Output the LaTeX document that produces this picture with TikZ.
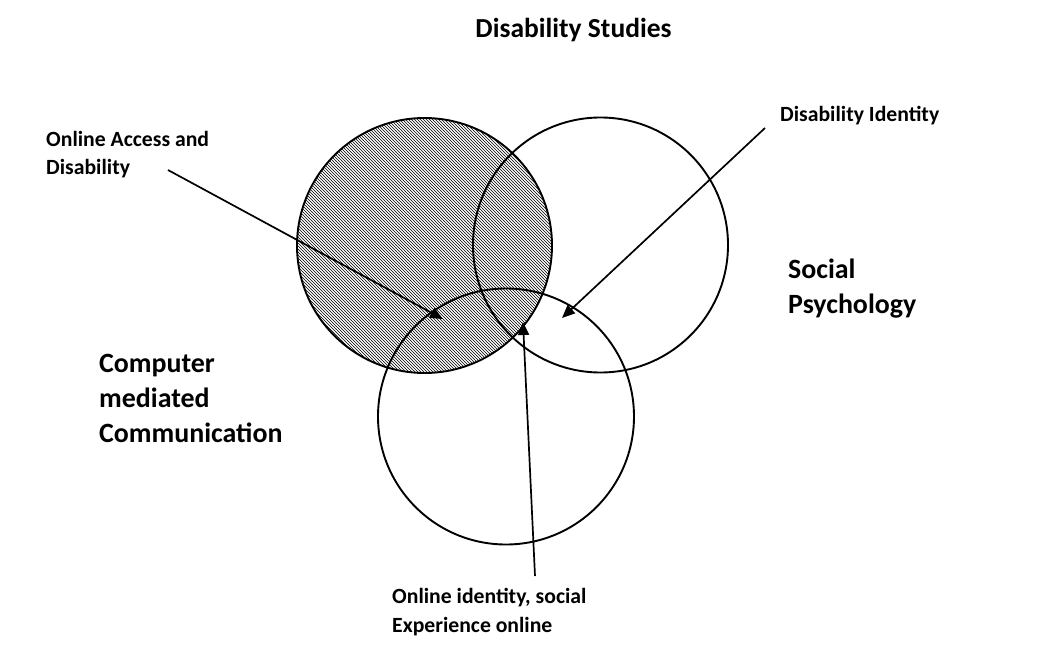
\documentclass[tikz,border=0pt]{standalone}
\usepackage{fontspec}
\setmainfont{Carlito}
\usetikzlibrary{arrows.meta,patterns}
\pgfdeclarepatternformonly{hatchnw}{\pgfqpoint{-1pt}{-1pt}}{\pgfqpoint{4pt}{4pt}}{\pgfqpoint{3pt}{3pt}}{%
  \pgfsetlinewidth{0.65pt}%
  \pgfpathmoveto{\pgfqpoint{0pt}{3pt}}%
  \pgfpathlineto{\pgfqpoint{3.1pt}{-0.1pt}}%
  \pgfusepath{stroke}%
}
\tikzset{
  setcircle/.style={draw=black, line width=1.9pt},
  pointer/.style={draw=black, line width=1.7pt, -{Triangle[length=13pt,width=11pt]}},
  smalllabel/.style={inner sep=0pt, anchor=base west, align=left, font=\bfseries\fontsize{21.7}{28.5}\selectfont},
  biglabel/.style={inner sep=0pt, anchor=base west, align=left, font=\bfseries\fontsize{27.9}{35}\selectfont},
  titlelabel/.style={inner sep=0pt, anchor=base, font=\bfseries\fontsize{27.5}{32}\selectfont}
}
\begin{document}
\begin{tikzpicture}[x=1pt,y=-1pt]
\useasboundingbox[fill=white] (0,0) rectangle (1037,671);
% circles
\fill[pattern=hatchnw, pattern color=black] (424.5,245.5) circle[radius=127.5];
\draw[setcircle] (424.5,245.5) circle[radius=127.5];
\draw[setcircle] (600.5,245) circle[radius=127.5];
\draw[setcircle] (506,416.5) circle[radius=128];
% labels (base anchor = baseline of the last line)
\node[titlelabel] (title) at (573.5,38) {Disability Studies};
\node[smalllabel] (access) at (46,175) {Online Access and\\Disability};
\node[smalllabel] (ident) at (780,122) {Disability Identity};
\node[biglabel] (socpsy) at (788,313) {Social\\Psychology};
\node[biglabel] (cmc) at (99,442) {Computer\\mediated\\Communication};
\node[smalllabel] (online) at (392,632) {Online identity, social\\Experience online};
% connector ends
\coordinate (a1s) at (168,170);
\coordinate (a1e) at (443,319);
\coordinate (a2s) at (765,128);
\coordinate (a2e) at (562,318);
\coordinate (a3s) at (535,576);
\coordinate (a3e) at (523,322);
\draw[pointer] (a1s) -- (a1e);
\draw[pointer] (a2s) -- (a2e);
\draw[pointer] (a3s) -- (a3e);
\end{tikzpicture}
\end{document}
